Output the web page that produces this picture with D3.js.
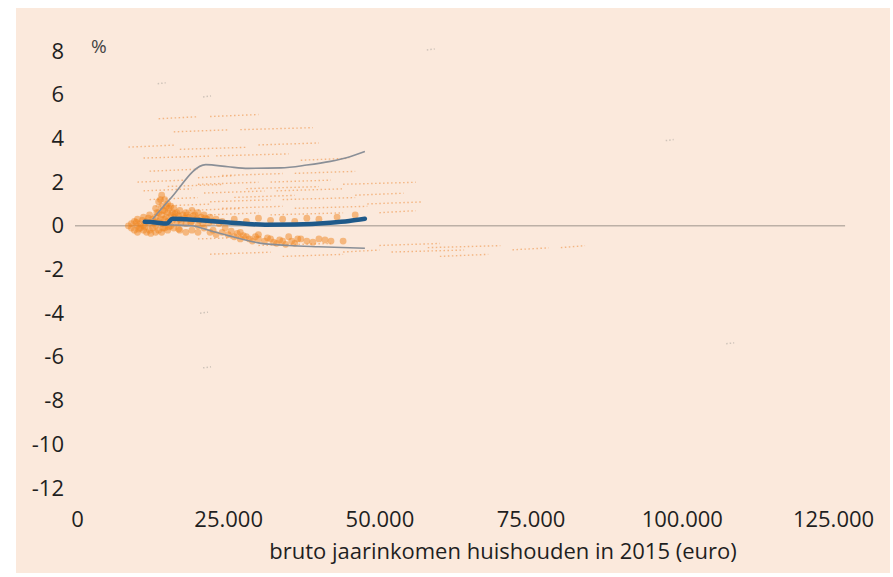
<!DOCTYPE html>
<html>
<head>
<meta charset="utf-8">
<script src="https://cdn.jsdelivr.net/npm/d3@7"></script>
<style>
  body { margin: 0; background: #fff; }
  svg { display: block; font-family: "Open Sans", sans-serif; }
</style>
</head>
<body>
<div id="chart"></div>
<script>
// y axis ticks (%) and x axis ticks (euro)
const yTicks = [8, 6, 4, 2, 0, -2, -4, -6, -8, -10, -12];
const xTicks = [0, 25000, 50000, 75000, 100000, 125000];
const zeroLineEnd = 127000;

// bovenste en onderste band, mediaan
const upperLine = [[12500,0.3],[15300,1.2],[21300,2.8],[25000,2.7],[28300,2.63],[33700,2.65],[38000,2.78],[41900,2.95],[45000,3.15],[47600,3.4]];
const medianLine = [[11200,0.18],[13000,0.15],[14800,0.1],[15800,0.32],[18000,0.3],[22000,0.22],[25600,0.14],[31100,0.05],[36000,0.06],[41900,0.14],[45000,0.22],[47600,0.32]];
const lowerLine = [[12500,0.1],[15000,0.05],[19000,0.0],[21500,-0.18],[25000,-0.45],[30000,-0.78],[35000,-0.9],[40000,-0.96],[47600,-1.03]];

// dichte kern van huishoudens [inkomen, %]
const corePoints = [
  [8500,0.0],[9000,0.1],[9000,-0.1],[9500,0.2],[9500,-0.2],[10000,0.0],[10000,0.3],[10000,-0.3],
  [10500,0.1],[10500,-0.1],[11000,0.4],[11000,-0.2],[11000,0.0],[11500,0.2],[11500,-0.3],[12000,0.5],
  [12000,0.1],[12000,-0.2],[12500,0.3],[12500,-0.1],
  [13000,0.8],[13000,0.4],[13000,0.0],[13000,-0.3],[13500,1.1],[13500,0.6],[13500,0.2],[13500,-0.2],
  [14000,1.4],[14000,0.9],[14000,0.5],[14000,0.1],[14000,-0.3],[14500,1.2],[14500,0.7],[14500,0.3],
  [14500,-0.1],[15000,1.0],[15000,0.6],[15000,0.2],[15000,-0.2],[15500,0.9],[15500,0.5],[15500,0.0],
  [16000,0.8],[16000,0.4],[16000,-0.1],[16500,0.6],[16500,0.2],[17000,0.7],[17000,0.3],[17000,-0.2],
  [17500,0.5],[18000,0.6],[18000,0.1],[18000,-0.3],[18500,0.4],[19000,0.7],[19000,0.2],[19000,-0.2],
  [19500,0.5],[20000,0.6],[20000,0.0],[20000,-0.3],[20500,0.4],[21000,0.5],[21000,-0.1],[21500,0.3],
  [22000,0.4],[22000,-0.3],[22500,0.2],[23000,0.3],[23000,-0.4],[24000,0.2],[24000,-0.3],
  [25000,-0.4],[26000,-0.5],[27000,-0.3],[27000,-0.6],[28000,-0.5],[29000,-0.7],[30000,-0.6],
  [30000,-0.4],[31000,-0.7],[32000,-0.6],[33000,-0.8],[34000,-0.7],[35000,-0.5],[36000,-0.8],
  [37000,-0.6],[38000,-0.7],[40000,-0.6],[42000,-0.7],
  [9800,0.15],[10200,-0.15],[10800,0.25],[11200,-0.05],[11800,0.35],[12200,-0.35],[12800,0.15],
  [13200,0.6],[13800,0.3],[13800,1.2],[14200,0.7],[14200,-0.1],[14800,0.4],[14800,0.9],[15200,0.8],
  [15200,-0.05],[15800,0.6],[15800,0.25],[16200,0.55],[16800,0.45],[16800,-0.15],[17200,0.15],
  [17800,0.35],[18200,0.5],[18800,0.15],[19200,0.45],[19800,0.3],[20200,0.25],[20800,0.1],
  [21200,0.35],[21800,0.15],[22500,-0.2],[23500,0.1],[24500,-0.1],[25500,-0.25],[26500,-0.35],
  [27500,-0.45],[28500,-0.6],[29500,-0.5],[31500,-0.55],[32500,-0.75],[33500,-0.65],[34500,-0.85],
  [35500,-0.7],[36500,-0.6],[39000,-0.75],[41000,-0.65],[44000,-0.7],
  [26000,0.3],[28000,0.2],[30000,0.35],[32000,0.25],[34000,0.3],[36000,0.2],[38000,0.35],
  [40000,0.3],[43000,0.4],[46000,0.5]
];

// losse puntenrijen [van, tot, %]
const streaks = [
  [13500,20000,4.9],[22000,30000,5.0],[16000,25000,4.3],[27000,39000,4.4],
  [8500,16000,3.6],[17000,28000,3.5],[30000,40000,3.7],
  [11000,22000,3.1],[23000,35000,3.2],[37000,45000,3.0],
  [12000,20000,2.5],[24000,34000,2.3],[36000,46000,2.4],
  [10000,18000,2.0],[20000,30000,1.9],[32000,42000,2.0],[44000,56000,1.9],
  [11000,19000,1.6],[21000,31000,1.5],[33000,44000,1.6],[46000,54000,1.4],
  [12000,20000,1.2],[22000,32000,1.1],[34000,46000,1.2],[48000,57000,1.0],
  [13000,22000,0.9],[24000,34000,0.8],[36000,48000,0.8],[50000,56000,0.6],
  [22000,30000,0.5],[32000,44000,0.5],
  [20000,30000,-0.6],[30000,42000,-0.9],[44000,50000,-1.2],[50000,60000,-0.9],
  [52000,64000,-1.2],[58000,70000,-1.0],[60000,68000,-1.4],[72000,78000,-1.1],
  [80000,84000,-1.0],[22000,32000,-1.3],[34000,44000,-1.4],
  [15000,24000,1.8],[26000,36000,1.3],[18000,27000,0.7],[28000,40000,1.7],[20000,26000,2.2]
];

// vage uitschieters
const faintPoints = [[14000,6.5],[21500,5.9],[21000,-4.0],[21500,-6.5],[58500,8.05],[108000,-5.4],[98000,3.9]];

const width = 893, height = 577;
const svg = d3.select("#chart").append("svg")
  .attr("width", width)
  .attr("height", height);

// paneel
svg.append("rect")
  .attr("x", 16).attr("y", 8)
  .attr("width", 874).attr("height", 565)
  .attr("fill", "#fbe9dc");

const x = d3.scaleLinear().domain([0, 125000]).range([77, 833]);
const y = d3.scaleLinear().domain([-12, 8]).range([488, 51]);

const labelColor = "#1f1f1f";

// y labels (gewone koppeltekens, zoals het origineel)
const yAxis = d3.axisLeft(y).tickValues(yTicks).tickSize(0).tickPadding(0)
  .tickFormat(d => String(d));
const gy = svg.append("g").attr("transform", "translate(64,0)").call(yAxis);
gy.select(".domain").remove();
gy.selectAll("text")
  .attr("font-size", 22).attr("fill", labelColor)
  .attr("font-family", "Open Sans");

// x labels
const xAxis = d3.axisBottom(x).tickValues(xTicks).tickSize(0).tickPadding(0)
  .tickFormat(d => d3.format(",")(d).replace(/,/g, "."));
const gx = svg.append("g").attr("transform", "translate(0,511)").call(xAxis);
gx.select(".domain").remove();
gx.selectAll("text")
  .attr("font-size", 22).attr("fill", labelColor)
  .attr("font-family", "Open Sans");

svg.append("text")
  .attr("x", 91).attr("y", 53)
  .attr("font-size", 19).attr("fill", "#444")
  .text("%");

svg.append("text")
  .attr("x", 503).attr("y", 559)
  .attr("text-anchor", "middle")
  .attr("font-size", 22).attr("fill", labelColor)
  .text("bruto jaarinkomen huishouden in 2015 (euro)");

// nullijn
svg.append("line")
  .attr("x1", x(0) - 2).attr("x2", x(zeroLineEnd))
  .attr("y1", y(0)).attr("y2", y(0))
  .attr("stroke", "#bcb0a6").attr("stroke-width", 1.5);

// vage punten
svg.selectAll(".faint")
  .data(faintPoints)
  .enter().append("line")
  .attr("class", "faint")
  .attr("x1", d => x(d[0]) - 4).attr("x2", d => x(d[0]) + 4)
  .attr("y1", d => y(d[1])).attr("y2", d => y(d[1]) - 1)
  .attr("stroke", "#cfc4ba").attr("stroke-width", 1.5)
  .attr("stroke-dasharray", "1.5 2");

// puntenrijen
svg.selectAll(".streak")
  .data(streaks)
  .enter().append("line")
  .attr("class", "streak")
  .attr("x1", d => x(d[0])).attr("x2", d => x(d[1]))
  .attr("y1", d => y(d[2])).attr("y2", d => y(d[2]) - 2)
  .attr("stroke", "#f09a52").attr("stroke-opacity", 0.65)
  .attr("stroke-width", 1.4)
  .attr("stroke-dasharray", "1.5 2.5");

// kern
svg.selectAll(".core")
  .data(corePoints)
  .enter().append("circle")
  .attr("class", "core")
  .attr("cx", d => x(d[0]))
  .attr("cy", d => y(d[1]))
  .attr("r", 3.4)
  .attr("fill", "#f0851f")
  .attr("fill-opacity", 0.5);

const line = d3.line()
  .x(d => x(d[0]))
  .y(d => y(d[1]))
  .curve(d3.curveMonotoneX);

svg.append("path").datum(upperLine)
  .attr("d", line).attr("fill", "none")
  .attr("stroke", "#8a8f97").attr("stroke-width", 1.6);

svg.append("path").datum(lowerLine)
  .attr("d", line).attr("fill", "none")
  .attr("stroke", "#8a8f97").attr("stroke-width", 1.6);

svg.append("path").datum(medianLine)
  .attr("d", line).attr("fill", "none")
  .attr("stroke", "#1f5a8a").attr("stroke-width", 4.5)
  .attr("stroke-linecap", "round");
</script>
</body>
</html>
